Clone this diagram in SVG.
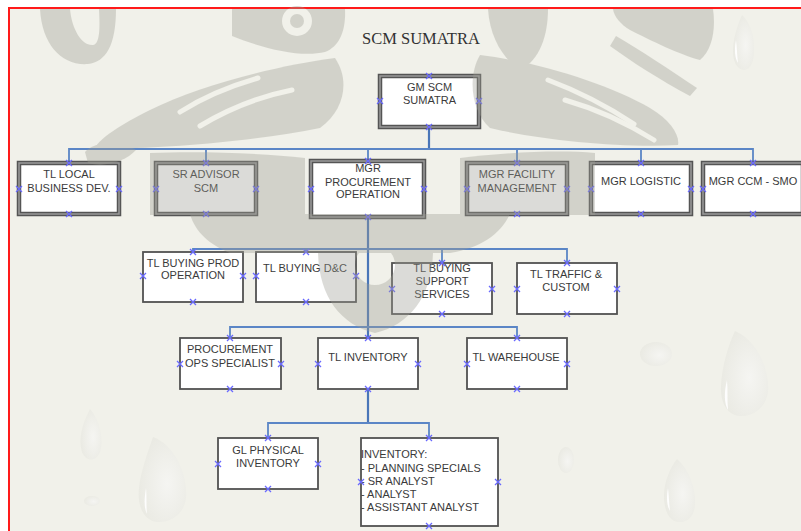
<svg xmlns="http://www.w3.org/2000/svg" xmlns:xlink="http://www.w3.org/1999/xlink" width="801" height="531" viewBox="0 0 801 531">
  <style>
    .lbl { font-family: "Liberation Sans", Arial, sans-serif; font-size: 11px; fill: #3a3a3a; }
    .mid { text-anchor: middle; }
    .title { font-family: "Liberation Serif", "Times New Roman", serif; font-size: 16.5px; fill: #333; }
    .frame-out { fill: #fff; stroke: #555; stroke-width: 4.5; }
    .frame-in { fill: none; stroke: #9a9a9a; stroke-width: 1.5; }
    .box { fill: #fff; stroke: #525252; stroke-width: 1.8; }
    .wire { fill: none; stroke: #5b86c6; stroke-width: 1.8; }
    .trunk { fill: none; stroke: #4a76b8; stroke-width: 2.2; }
    .drop { fill: url(#dropfill); }
    .shine { fill: #ffffff; opacity: 0.9; }
    .wm { fill: #9e9e94; opacity: 0.36; }
    .gap { fill: none; stroke: #f1f1ea; stroke-width: 5; stroke-linecap: round; }
  </style>
  <defs>
    <path id="pt" d="M-3,-3L3,3M3,-3L-3,3" stroke="#6a6aff" stroke-width="1.3" fill="none"/>
    <radialGradient id="dropfill" cx="0.6" cy="0.55" r="0.6">
      <stop offset="0" stop-color="#f5f5f2"/>
      <stop offset="1" stop-color="#eaeae3"/>
    </radialGradient>
  </defs>

  <!-- page -->
  <rect x="0" y="0" width="801" height="531" fill="#ffffff"/>
  <rect x="9" y="8" width="800" height="530" fill="#f1f1ea"/>
  <path d="M9,531 V8 H801" fill="none" stroke="#ff1a1a" stroke-width="2"/>

  <!-- water drops -->
  <g id="drops">
    <path class="drop" d="M153,437 C175,445 188,475 186,498 C184,515 170,523 157,522 C143,520 137,505 139,488 C141,470 148,452 153,437 Z"/>
    <path class="shine" d="M146,488 C144,500 144,508 147,514 C146,505 147,496 146,488 Z"/>
    <ellipse class="drop" cx="92" cy="501" rx="8" ry="5"/>
    <path class="drop" d="M735,331 C757,340 770,370 768,392 C766,408 752,417 740,416 C727,415 720,402 721,386 C722,366 728,346 735,331 Z"/>
    <path class="shine" d="M727,380 C724,392 724,403 728,410 C727,400 728,390 727,380 Z"/>
    <path class="drop" d="M677,459 C690,470 696,490 695,505 C694,518 686,523 678,522 C669,521 664,510 664,496 C664,482 670,468 677,459 Z"/>
    <path class="shine" d="M668,488 C666,498 667,506 670,511 C669,503 669,495 668,488 Z"/>
    <ellipse class="drop" cx="656" cy="354" rx="16" ry="12"/>
    <ellipse class="drop" cx="566" cy="460" rx="8" ry="13"/>
    <path class="drop" d="M742,15 C753,25 756,45 753,60 C750,72 742,72 737,66 C731,58 731,40 742,15 Z"/>
    <path class="shine" d="M736,40 C734,50 735,58 738,63 C737,55 737,47 736,40 Z"/>
    <path class="drop" d="M90,409 C100,420 104,440 100,452 C96,462 86,462 82,452 C78,440 82,424 90,409 Z"/>
  </g>

  <!-- title -->
  <text class="title" x="362" y="44">SCM SUMATRA</text>

  <!-- connectors -->
  <g id="connectors">
    <path class="trunk" d="M429,127 V149"/>
    <path class="wire" d="M69,163 V149 H753 V163 M206,149 V163 M368,149 V161 M517,149 V163 M641,149 V163"/>
    <path class="trunk" d="M368,217 V338"/>
    <path class="wire" d="M193,252 V249 H567 V263 M306,249 V252 M442,249 V263"/>
    <path class="wire" d="M230,338 V327 H517 V338"/>
    <path class="trunk" d="M368,389 V423"/>
    <path class="wire" d="M268,438 V423 H429 V438"/>
  </g>

  <!-- top level -->
  <g id="gm-scm">
    <rect class="frame-out" x="380" y="76" width="99" height="51"/>
    <rect class="frame-in" x="380" y="76" width="99" height="51"/>
    <text class="lbl mid" x="429.5" y="91">GM SCM</text>
    <text class="lbl mid" x="429.5" y="104">SUMATRA</text>
    <use xlink:href="#pt" x="429" y="76"/><use xlink:href="#pt" x="380" y="101"/>
    <use xlink:href="#pt" x="479" y="101"/><use xlink:href="#pt" x="429" y="127"/>
  </g>

  <!-- second level -->
  <g id="tl-local">
    <rect class="frame-out" x="19" y="163" width="100" height="51"/>
    <rect class="frame-in" x="19" y="163" width="100" height="51"/>
    <text class="lbl mid" x="69" y="178">TL LOCAL</text>
    <text class="lbl mid" x="69" y="191.5">BUSINESS DEV.</text>
    <use xlink:href="#pt" x="69" y="163"/><use xlink:href="#pt" x="19" y="189"/>
    <use xlink:href="#pt" x="119" y="189"/><use xlink:href="#pt" x="69" y="214"/>
  </g>
  <g id="sr-advisor">
    <rect class="frame-out" x="156" y="163" width="100" height="51"/>
    <rect class="frame-in" x="156" y="163" width="100" height="51"/>
    <text class="lbl mid" x="206" y="178">SR ADVISOR</text>
    <text class="lbl mid" x="206" y="191.5">SCM</text>
    <use xlink:href="#pt" x="206" y="163"/><use xlink:href="#pt" x="156" y="189"/>
    <use xlink:href="#pt" x="256" y="189"/><use xlink:href="#pt" x="206" y="214"/>
  </g>
  <g id="mgr-procurement">
    <rect class="frame-out" x="311" y="161" width="113" height="56"/>
    <rect class="frame-in" x="311" y="161" width="113" height="56"/>
    <text class="lbl mid" x="368" y="172">MGR</text>
    <text class="lbl mid" x="368" y="185.5">PROCUREMENT</text>
    <text class="lbl mid" x="368" y="198">OPERATION</text>
    <use xlink:href="#pt" x="368" y="161"/><use xlink:href="#pt" x="311" y="189"/>
    <use xlink:href="#pt" x="424" y="189"/><use xlink:href="#pt" x="368" y="217"/>
  </g>
  <g id="mgr-facility">
    <rect class="frame-out" x="467" y="163" width="100" height="51"/>
    <rect class="frame-in" x="467" y="163" width="100" height="51"/>
    <text class="lbl mid" x="517" y="178">MGR FACILITY</text>
    <text class="lbl mid" x="517" y="191.5">MANAGEMENT</text>
    <use xlink:href="#pt" x="517" y="163"/><use xlink:href="#pt" x="467" y="189"/>
    <use xlink:href="#pt" x="567" y="189"/><use xlink:href="#pt" x="517" y="214"/>
  </g>
  <g id="mgr-logistic">
    <rect class="frame-out" x="591" y="163" width="100" height="51"/>
    <rect class="frame-in" x="591" y="163" width="100" height="51"/>
    <text class="lbl mid" x="641" y="185">MGR LOGISTIC</text>
    <use xlink:href="#pt" x="641" y="163"/><use xlink:href="#pt" x="591" y="189"/>
    <use xlink:href="#pt" x="691" y="189"/><use xlink:href="#pt" x="641" y="214"/>
  </g>
  <g id="mgr-ccm">
    <rect class="frame-out" x="703" y="163" width="100" height="51"/>
    <rect class="frame-in" x="703" y="163" width="100" height="51"/>
    <text class="lbl mid" x="753" y="185">MGR CCM - SMO</text>
    <use xlink:href="#pt" x="753" y="163"/><use xlink:href="#pt" x="703" y="189"/>
    <use xlink:href="#pt" x="753" y="214"/>
  </g>

  <!-- third level -->
  <g id="tl-buying-prod">
    <rect class="box" x="143" y="252" width="100" height="50"/>
    <text class="lbl mid" x="193" y="266.5">TL BUYING PROD</text>
    <text class="lbl mid" x="193" y="279">OPERATION</text>
    <use xlink:href="#pt" x="193" y="252"/><use xlink:href="#pt" x="143" y="276"/>
    <use xlink:href="#pt" x="243" y="276"/><use xlink:href="#pt" x="193" y="302"/>
  </g>
  <g id="tl-buying-dc">
    <rect class="box" x="256" y="252" width="100" height="50"/>
    <text class="lbl mid" x="305" y="272">TL BUYING D&amp;C</text>
    <use xlink:href="#pt" x="306" y="252"/><use xlink:href="#pt" x="256" y="276"/>
    <use xlink:href="#pt" x="356" y="276"/><use xlink:href="#pt" x="306" y="302"/>
  </g>
  <g id="tl-buying-support">
    <rect class="box" x="392" y="263" width="100" height="51"/>
    <text class="lbl mid" x="442" y="272">TL BUYING</text>
    <text class="lbl mid" x="442" y="285">SUPPORT</text>
    <text class="lbl mid" x="442" y="298">SERVICES</text>
    <use xlink:href="#pt" x="442" y="263"/><use xlink:href="#pt" x="392" y="289"/>
    <use xlink:href="#pt" x="492" y="289"/><use xlink:href="#pt" x="442" y="314"/>
  </g>
  <g id="tl-traffic">
    <rect class="box" x="517" y="263" width="100" height="51"/>
    <text class="lbl mid" x="566" y="278">TL TRAFFIC &amp;</text>
    <text class="lbl mid" x="566" y="291">CUSTOM</text>
    <use xlink:href="#pt" x="567" y="263"/><use xlink:href="#pt" x="517" y="289"/>
    <use xlink:href="#pt" x="617" y="289"/><use xlink:href="#pt" x="567" y="314"/>
  </g>

  <!-- fourth level -->
  <g id="proc-ops">
    <rect class="box" x="180" y="338" width="101" height="51"/>
    <text class="lbl mid" x="230" y="353">PROCUREMENT</text>
    <text class="lbl mid" x="230" y="366.5">OPS SPECIALIST</text>
    <use xlink:href="#pt" x="230" y="338"/><use xlink:href="#pt" x="180" y="364"/>
    <use xlink:href="#pt" x="281" y="364"/><use xlink:href="#pt" x="230" y="389"/>
  </g>
  <g id="tl-inventory">
    <rect class="box" x="318" y="338" width="100" height="51"/>
    <text class="lbl mid" x="368" y="360.5">TL INVENTORY</text>
    <use xlink:href="#pt" x="368" y="338"/><use xlink:href="#pt" x="318" y="364"/>
    <use xlink:href="#pt" x="418" y="364"/><use xlink:href="#pt" x="368" y="389"/>
  </g>
  <g id="tl-warehouse">
    <rect class="box" x="467" y="338" width="100" height="51"/>
    <text class="lbl mid" x="516" y="360.5">TL WAREHOUSE</text>
    <use xlink:href="#pt" x="517" y="338"/><use xlink:href="#pt" x="467" y="364"/>
    <use xlink:href="#pt" x="567" y="364"/><use xlink:href="#pt" x="517" y="389"/>
  </g>

  <!-- fifth level -->
  <g id="gl-physical">
    <rect class="box" x="218" y="438" width="100" height="51"/>
    <text class="lbl mid" x="268" y="454">GL PHYSICAL</text>
    <text class="lbl mid" x="268" y="466.5">INVENTORY</text>
    <use xlink:href="#pt" x="268" y="438"/><use xlink:href="#pt" x="218" y="464"/>
    <use xlink:href="#pt" x="318" y="464"/><use xlink:href="#pt" x="268" y="489"/>
  </g>
  <g id="inventory-staff">
    <rect class="box" x="361" y="438" width="137" height="88"/>
    <text class="lbl" x="361" y="458">INVENTORY:</text>
    <text class="lbl" x="361" y="472">- PLANNING SPECIALS</text>
    <text class="lbl" x="361" y="485">- SR ANALYST</text>
    <text class="lbl" x="361" y="498">- ANALYST</text>
    <text class="lbl" x="361" y="511">- ASSISTANT ANALYST</text>
    <use xlink:href="#pt" x="429" y="438"/><use xlink:href="#pt" x="361" y="482"/>
    <use xlink:href="#pt" x="498" y="482"/><use xlink:href="#pt" x="429" y="526"/>
  </g>

  <!-- faint emblem laid over the chart; light strokes inside are its inner lines -->
  <g id="emblem" class="wm">
    <!-- upper corners -->
    <path d="M40,9 C42,45 62,66 88,64 C106,62 116,45 116,9 L99,9 C100,28 100,44 93,45 C82,46 72,30 70,9 Z"/>
    <path d="M613,9 L713,9 C716,30 712,50 700,60 C680,55 650,40 630,30 C620,24 614,16 613,9 Z"/>
    <path d="M616,36 C640,50 670,70 697,88 L690,96 C660,80 632,62 610,46 Z"/>
    <!-- crown with eyes -->
    <path fill-rule="evenodd" d="M232,9 L345,9 C346,30 340,46 325,52 C300,58 262,48 232,36 Z M282,21 a15,15 0 1,0 30,0 a15,15 0 1,0 -30,0 Z"/>
    <circle cx="297" cy="21" r="7"/>
    <path d="M488,9 L548,9 C548,35 540,60 520,70 C505,60 490,40 488,9 Z"/>
    <!-- wings -->
    <path d="M335,58 C280,65 200,85 150,110 C120,125 100,138 95,148 C150,150 250,142 320,128 C345,110 350,80 335,58 Z"/>
    <path d="M480,55 C540,62 610,85 650,108 C670,120 680,135 678,145 C620,148 540,140 490,128 C470,110 468,75 480,55 Z"/>
    <path d="M85,152 C95,141 120,140 136,150 C126,161 105,168 88,163 Z"/>
    <!-- lower band and dome -->
    <path d="M150,153 C200,151 260,153 305,158 L305,215 L150,215 Z"/>
    <path d="M460,158 C510,152 560,150 595,153 L595,215 L460,215 Z"/>
    <path d="M190,214 L510,214 C500,235 480,248 450,253 L230,253 C210,245 195,232 190,214 Z"/>
    <path fill-rule="evenodd" d="M318,250 L433,250 C433,295 410,325 375,333 C340,325 318,295 318,250 Z M355,265 a20,20 0 1,0 40,0 a20,20 0 1,0 -40,0 Z"/>
    <g class="gap">
      <path d="M180,112 C205,96 230,86 258,78"/>
      <path d="M200,126 C230,108 262,96 292,90"/>
      <path d="M548,80 C580,92 610,108 634,124"/>
      <path d="M565,100 C600,110 630,125 654,140"/>
    </g>
  </g>
</svg>
